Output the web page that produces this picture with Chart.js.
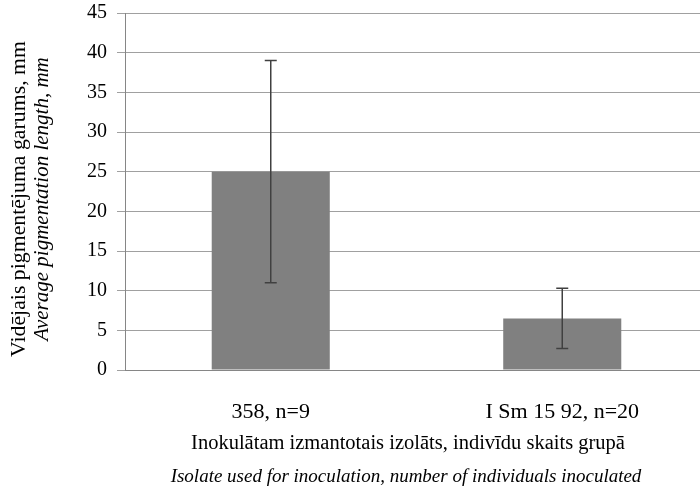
<!DOCTYPE html>
<html>
<head>
<meta charset="utf-8">
<script src="https://cdn.jsdelivr.net/npm/chart.js@4/dist/chart.umd.min.js"></script>
<style>
  html, body { margin: 0; padding: 0; background: #fff; overflow: hidden; }
  #wrap { width: 700px; height: 494px; overflow: hidden; }
</style>
</head>
<body>
<div id="wrap"><canvas id="c" width="710" height="494"></canvas></div>
<script>
// data
var categories = ['358, n=9', 'I Sm 15 92, n=20'];
var means = [25, 6.5];
var errors = [14, 3.8];
var yTicks = [0, 5, 10, 15, 20, 25, 30, 35, 40, 45];

var yTitle = ['Vidējais pigmentējuma garums, mm', 'Average pigmentation length, mm'];
var xTitle = ['Inokulātam izmantotais izolāts, indivīdu skaits grupā', 'Isolate used for inoculation, number of individuals inoculated'];

var FONT = '"Liberation Serif", "Times New Roman", serif';

// error bars drawn from data through the scales
var errorBars = {
  id: 'errorBars',
  afterDatasetsDraw: function(chart) {
    var ctx = chart.ctx;
    var xs = chart.scales.x, ys = chart.scales.y;
    ctx.save();
    ctx.strokeStyle = '#404040';
    ctx.lineWidth = 1.5;
    for (var i = 0; i < means.length; i++) {
      var x = xs.getPixelForValue(i);
      var top = ys.getPixelForValue(means[i] + errors[i]);
      var bot = ys.getPixelForValue(means[i] - errors[i]);
      ctx.beginPath();
      ctx.moveTo(x, top); ctx.lineTo(x, bot);
      ctx.moveTo(x - 6, top); ctx.lineTo(x + 6, top);
      ctx.moveTo(x - 6, bot); ctx.lineTo(x + 6, bot);
      ctx.stroke();
    }
    ctx.restore();
  }
};

// two-line axis titles, second line italic
var axisTitles = {
  id: 'axisTitles',
  afterDraw: function(chart) {
    var ctx = chart.ctx;
    ctx.save();
    ctx.fillStyle = '#000';
    ctx.textAlign = 'center';
    ctx.textBaseline = 'middle';
    var cy = 199;
    ctx.save();
    ctx.translate(19, cy);
    ctx.rotate(-Math.PI / 2);
    ctx.font = '21.8px ' + FONT;
    ctx.fillText(yTitle[0], 0, 0);
    ctx.restore();
    ctx.save();
    ctx.translate(42, cy);
    ctx.rotate(-Math.PI / 2);
    ctx.font = 'italic 21px ' + FONT;
    ctx.fillText(yTitle[1], 0, 0);
    ctx.restore();
    ctx.font = '20.5px ' + FONT;
    ctx.fillText(xTitle[0], 408, 444);
    ctx.font = 'italic 19px ' + FONT;
    ctx.fillText(xTitle[1], 406, 477);
    ctx.restore();
  }
};

new Chart(document.getElementById('c'), {
  type: 'bar',
  data: {
    labels: categories,
    datasets: [{
      data: means,
      backgroundColor: '#808080',
      borderWidth: 0,
      barPercentage: 0.405,
      categoryPercentage: 1
    }]
  },
  options: {
    responsive: false,
    animation: false,
    layout: { padding: { left: 0, right: 2, top: 13, bottom: 0 } },
    plugins: { legend: { display: false }, tooltip: { enabled: false } },
    scales: {
      x: {
        grid: { display: false },
        border: { display: true, color: '#868686', width: 1 },
        ticks: { color: '#000', font: { family: FONT, size: 22 }, padding: 21, maxRotation: 0 },
        afterFit: function(s) { s.height = 494 - 370; s.paddingLeft = 0; s.paddingRight = 0; }
      },
      y: {
        min: 0, max: 45,
        afterBuildTicks: function(s) { s.ticks = yTicks.map(function(v) { return { value: v }; }); },
        grid: { color: '#a0a0a0', lineWidth: 1, tickLength: 8, drawTicks: true },
        border: { display: true, color: '#868686', width: 1 },
        ticks: { color: '#000', font: { family: FONT, size: 20 }, padding: 10 },
        afterFit: function(s) { s.width = 125; s.paddingTop = 0; s.paddingBottom = 0; }
      }
    }
  },
  plugins: [errorBars, axisTitles]
});
</script>
</body>
</html>
